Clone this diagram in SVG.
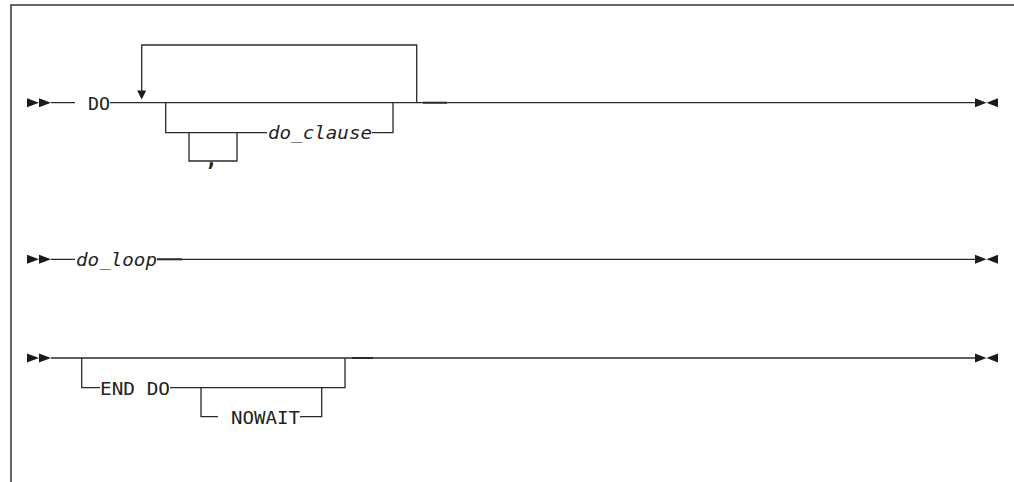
<svg xmlns="http://www.w3.org/2000/svg" width="1014" height="482" viewBox="0 0 1014 482">
<style>
.ln{fill:none;stroke:#2a2a2a;stroke-width:1.3}
.thk{fill:none;stroke:#2a2a2a;stroke-width:2}
.fr{fill:none;stroke:#333;stroke-width:1.5}
.ar{fill:#1a1a1a}
.t{font-family:"DejaVu Sans Mono","Liberation Mono",monospace;font-size:17.5px;fill:#222}
.i{font-style:italic}
</style>
<rect width="1014" height="482" fill="#fff"/>
<g id="frame"><path class="fr" d="M11,482 V5 H1014"/></g>
<g id="connectors">
<path class="ln" d="M51,102.7 H75 M110,102.7 H975"/>
<path class="ln" d="M416.7,102.7 V45 H141.7 V92"/>
<path class="ln" d="M165.7,102.7 V132.7 H267 M372,132.7 H393 V102.7"/>
<path class="ln" d="M189,132.7 V161 H237 V132.7"/>
<path class="thk" d="M423,102.7 H447"/>
<path class="ln" d="M51,259.3 H75 M157,259.3 H975"/>
<path class="thk" d="M157,259.3 H182"/>
<path class="ln" d="M51,358 H975"/>
<path class="ln" d="M81.7,358 V387.7 H100 M170,387.7 H345 V358"/>
<path class="ln" d="M201,387.7 V416.7 H218 M300,416.7 H321.7 V387.7"/>
<path class="thk" d="M352,358 H373"/>
<polygon class="ar" points="137.2,90.5 146.2,90.5 141.7,99.5"/>
</g>
<g id="row1-start"><polygon class="ar" points="27,98.2 39,102.7 27,107.2"/><polygon class="ar" points="39,98.2 51,102.7 39,107.2"/></g>
<g id="row1-end"><polygon class="ar" points="975,98.2 986.5,102.7 975,107.2"/><polygon class="ar" points="998,98.2 986.5,102.7 998,107.2"/></g>
<g id="DO"><text class="t" x="88" y="110" textLength="22" lengthAdjust="spacingAndGlyphs">DO</text></g>
<g id="do_clause"><text class="t i" x="268" y="138.5" textLength="104" lengthAdjust="spacingAndGlyphs">do_clause</text></g>
<g id="comma"><text class="t" x="205" y="166" style="font-size:21px;font-weight:bold">,</text></g>
<g id="row2-start"><polygon class="ar" points="27,254.8 39,259.3 27,263.8"/><polygon class="ar" points="39,254.8 51,259.3 39,263.8"/></g>
<g id="row2-end"><polygon class="ar" points="975,254.8 986.5,259.3 975,263.8"/><polygon class="ar" points="998,254.8 986.5,259.3 998,263.8"/></g>
<g id="do_loop"><text class="t i" x="76" y="265.5" textLength="81" lengthAdjust="spacingAndGlyphs">do_loop</text></g>
<g id="row3-start"><polygon class="ar" points="27,353.5 39,358 27,362.5"/><polygon class="ar" points="39,353.5 51,358 39,362.5"/></g>
<g id="row3-end"><polygon class="ar" points="975,353.5 986.5,358 975,362.5"/><polygon class="ar" points="998,353.5 986.5,358 998,362.5"/></g>
<g id="END_DO"><text class="t" x="100" y="394.5" textLength="70" lengthAdjust="spacingAndGlyphs">END DO</text></g>
<g id="NOWAIT"><text class="t" x="231" y="423.5" textLength="69" lengthAdjust="spacingAndGlyphs">NOWAIT</text></g>
</svg>
